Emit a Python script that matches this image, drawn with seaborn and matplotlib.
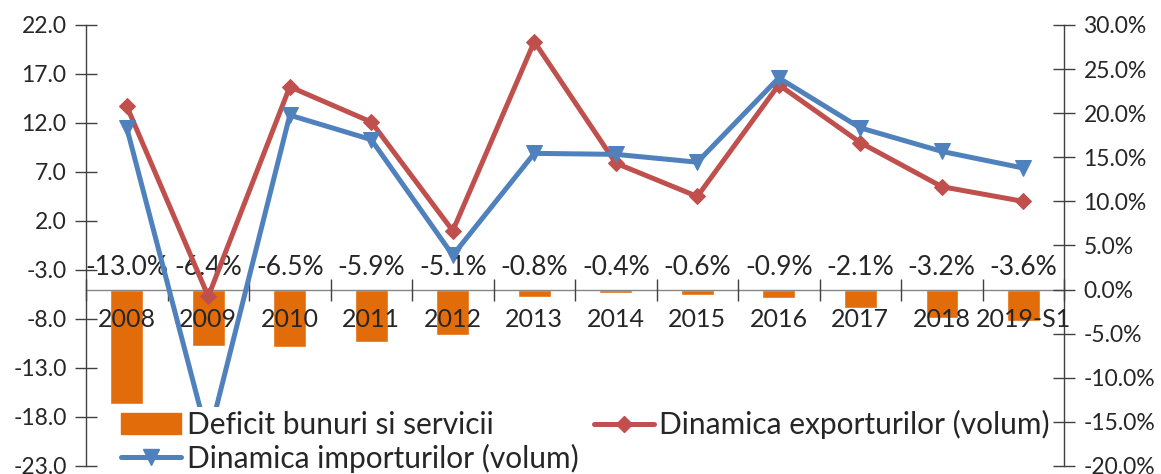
import numpy as np
import seaborn as sns
import matplotlib.pyplot as plt
from matplotlib.patches import Patch
from matplotlib.lines import Line2D

years = ['2008', '2009', '2010', '2011', '2012', '2013', '2014', '2015',
         '2016', '2017', '2018', '2019-S1']
deficit = [-13.0, -6.4, -6.5, -5.9, -5.1, -0.8, -0.4, -0.6, -0.9, -2.1, -3.2, -3.6]
exports = [13.7, -5.7, 15.7, 12.1, 1.0, 20.3, 7.9, 4.5, 15.9, 10.0, 5.5, 4.0]
imports = [11.5, -20.3, 12.8, 10.3, -1.5, 8.9, 8.8, 8.0, 16.6, 11.5, 9.1, 7.4]

orange = '#E36C0A'
red = '#C0504D'
blue = '#4F81BD'

sns.set_style('white')
plt.rcParams['font.family'] = ['Lato', 'DejaVu Sans']

fig = plt.figure(figsize=(11.61, 4.74), dpi=100)
ax = fig.add_axes([0.0741, 0.0169, 0.8424, 0.9304])

# bars on the percent scale
sns.barplot(x=years, y=deficit, color=orange, saturation=1, width=0.4, ax=ax,
            zorder=1)
ax.set_axisbelow(False)
ax2 = ax.twinx()
ax.yaxis.tick_right()
ax2.yaxis.tick_left()

x = np.arange(len(years))
sns.lineplot(x=x, y=exports, color=red, lw=3.6, marker='D', markersize=8,
             markeredgecolor=red, ax=ax2)
sns.lineplot(x=x, y=imports, color=blue, lw=3.6, marker='v', markersize=11,
             markeredgecolor=blue, ax=ax2)

ax.set_xlim(-0.5, 11.5)
ax.set_ylim(-20, 30)
ax.set_yticks(np.arange(-20, 31, 5))
ax.set_yticklabels([f'{v:.1f}%' for v in np.arange(-20, 31, 5)])
ax2.set_ylim(-23, 22)
ax2.set_yticks(np.arange(-23, 23, 5))
ax2.set_yticklabels([f'{v:.1f}' for v in np.arange(-23, 23, 5)])

ax.spines['top'].set_visible(False)
for s in ax2.spines.values():
    s.set_visible(False)
ax.spines['bottom'].set_position(('data', 0))
ax.spines['bottom'].set_color('#868686')
ax.spines['left'].set_color('#404040')
ax.spines['right'].set_color('#404040')
for s in ['left', 'right', 'bottom']:
    ax.spines[s].set_linewidth(1.0)

ax.set_xticks(x)
ax.set_xticklabels(years)
ax.set_xticks(np.arange(-0.5, 12, 1), minor=True)
ax.tick_params(axis='x', which='major', length=0, pad=13, labelsize=18)
ax.tick_params(axis='x', which='minor', length=16, direction='inout',
               color='#404040', width=1, bottom=True)
ax.tick_params(axis='y', length=16, direction='inout', color='#404040',
               width=1, pad=6, labelsize=16.5, right=True, left=False)
ax2.tick_params(axis='y', length=16, direction='inout', color='#404040',
                width=1, pad=6, labelsize=16.5, left=True, right=False)
ax.set_xlabel('')
ax.set_ylabel('')
ax2.set_ylabel('')

for i, v in enumerate(deficit):
    ax.text(i, 2.5, f'{v:.1f}%', ha='center', va='center', fontsize=19)

handles = [Patch(color=orange),
           Line2D([], [], color=blue, lw=3.6, marker='v', markersize=11),
           Line2D([], [], color=red, lw=3.6, marker='D', markersize=8)]
labels = ['Deficit bunuri si servicii', 'Dinamica importurilor (volum)',
          'Dinamica exporturilor (volum)']
leg = ax2.legend(handles, labels, ncol=2, loc='upper left',
                 bbox_to_anchor=(0.102, 0.141), bbox_transform=fig.transFigure,
                 fontsize=21.5, frameon=True, facecolor='white', edgecolor='none',
                 framealpha=1, handlelength=2.0, handletextpad=0.2,
                 columnspacing=0.5, labelspacing=0.15, borderpad=0.1,
                 borderaxespad=0, fancybox=False)

fig.savefig('out.png', dpi=100)
